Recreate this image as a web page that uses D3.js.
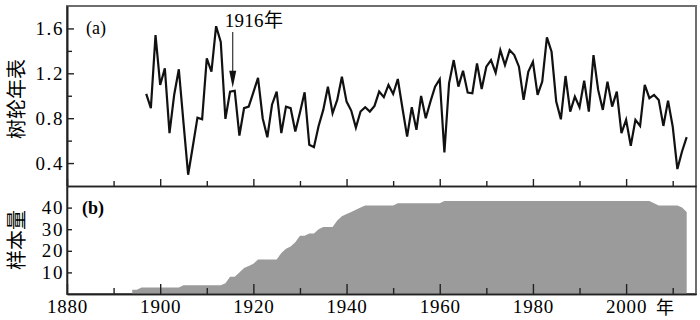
<!DOCTYPE html>
<html>
<head>
<meta charset="utf-8">
<script src="https://cdn.jsdelivr.net/npm/d3@7"></script>
<style>
  html, body { margin: 0; padding: 0; background: #fff; }
  svg { display: block; }
  .tick text { font-family: "Liberation Serif", "Times New Roman", serif; font-size: 19px; fill: #000; letter-spacing: 0.8px; }
  .ylab .tick text { letter-spacing: 1.6px; }
</style>
</head>
<body>
<svg id="chart" width="700" height="320"></svg>
<script>
// ---------- data ----------
const chronStartYear = 1897;               // first year of the tree-ring chronology
const chronValues = [
  1.016, 0.889, 1.54,
  1.096, 1.244, 0.667, 1.007, 1.236, 0.76, 0.296, 0.548, 0.805, 0.79,
  1.333, 1.214, 1.62, 1.48, 0.794, 1.037, 1.045, 0.645, 0.889, 0.903,
  1.03, 1.16, 0.80, 0.63, 0.92, 1.037, 0.667, 0.903, 0.889, 0.681,
  0.85, 1.031, 0.563, 0.542, 0.731, 0.874, 1.081, 0.844, 0.963, 1.17,
  0.948, 0.868, 0.716, 0.859, 0.898, 0.859, 0.91, 1.037, 0.987, 1.096,
  1.016, 1.149, 0.889, 0.636, 0.898, 0.696, 0.998, 0.8, 0.948, 1.081,
  1.147, 0.494, 1.111, 1.318, 1.081, 1.223, 1.028, 1.022, 1.289, 1.06,
  1.259, 1.318, 1.205, 1.407, 1.274, 1.407, 1.363, 1.259, 0.963, 1.214,
  1.303, 1.007, 1.126, 1.52, 1.392, 0.948, 0.79, 1.176, 0.859, 0.992,
  0.898, 1.134, 0.859, 1.363, 1.052, 0.874, 1.126, 0.903, 1.037, 0.667,
  0.785, 0.554, 0.785, 0.731, 1.096, 0.978, 1.007, 0.963, 0.731, 0.957,
  0.726, 0.347, 0.503, 0.631
];
const sampleStartYear = 1894;              // first year with samples
const sampleCounts = [
  2, 2, 3, 3, 3, 3,
  3, 3, 3, 3, 3, 4, 4, 4, 4, 4,
  4, 4, 4, 4, 5, 8, 8, 10, 12, 13,
  14, 16, 16, 16, 16, 16, 19, 21, 22, 24,
  27, 27, 28, 28, 30, 31, 31, 31, 34, 36,
  37, 38, 39, 40, 41, 41, 41, 41, 41, 41,
  41, 42, 42, 42, 42, 42, 42, 42, 42, 42,
  42, 43, 43, 43, 43, 43, 43, 43, 43, 43,
  43, 43, 43, 43, 43, 43, 43, 43, 43, 43,
  43, 43, 43, 43, 43, 43, 43, 43, 43, 43,
  43, 43, 43, 43, 43, 43, 43, 43, 43, 43,
  43, 43, 43, 43, 43, 43, 42, 41, 41, 41,
  41, 41, 40, 38
];
const xMajorTicks = [1880, 1900, 1920, 1940, 1960, 1980, 2000];
const xMinorTicks = [1890, 1910, 1930, 1950, 1970, 1990, 2010];
const yTopMajorTicks = [0.4, 0.8, 1.2, 1.6];
const yTopMinorTicks = [0.6, 1.0, 1.4];
const yBotTicks = [10, 20, 30, 40];
const markYear = 1916;
const labels = { topY: "树轮年表", botY: "样本量", a: "(a)", b: "(b)", mark: "1916年", unit: "年" };

const chron = chronValues.map((v, i) => ({ year: chronStartYear + i, v }));
const samples = sampleCounts.map((n, i) => ({ year: sampleStartYear + i, n }));

// ---------- layout ----------
const L = 67, R = 696, topT = 6, mid = 186, botB = 294;
const svg = d3.select("#chart");

const x = d3.scaleLinear().domain([1880, 2015]).range([L, R]);
const yTop = d3.scaleLinear().domain([0.2, 1.8]).range([185.5, topT]);
const yBot = d3.scaleLinear().domain([0, 50]).range([botB, mid]);

// outer frame (grey)
svg.append("rect").attr("x", L).attr("y", topT).attr("width", R - L).attr("height", botB - topT)
  .attr("fill", "none").attr("stroke", "#6e6e6e").attr("stroke-width", 2);

// ---------- bottom panel: sample counts ----------
const area = d3.area()
  .x(d => x(d.year))
  .y0(yBot(0))
  .y1(d => yBot(d.n));
svg.append("path").datum(samples).attr("d", area).attr("fill", "#9b9b9b");

// ---------- top panel: chronology ----------
const line = d3.line().x(d => x(d.year)).y(d => yTop(d.v));
svg.append("path").datum(chron).attr("d", line)
  .attr("fill", "none").attr("stroke", "#111").attr("stroke-width", 2.2)
  .attr("stroke-linejoin", "miter");

// ---------- axes ----------
function styleAxis(g) {
  g.selectAll(".domain").attr("stroke", "#222").attr("stroke-width", 1.6);
  g.selectAll(".tick line").attr("stroke", "#222").attr("stroke-width", 1.4);
}
// top panel x ticks (inward, on divider)
svg.append("g").attr("transform", `translate(0,${mid})`)
  .call(d3.axisTop(x).tickValues(xMajorTicks).tickSizeInner(7).tickSizeOuter(0).tickFormat(""))
  .call(styleAxis);
svg.append("g").attr("transform", `translate(0,${mid})`)
  .call(d3.axisTop(x).tickValues(xMinorTicks).tickSizeInner(5).tickSizeOuter(0).tickFormat(""))
  .call(styleAxis);
// bottom panel x axis
svg.append("g").attr("transform", `translate(0,${botB})`)
  .call(d3.axisBottom(x).tickValues(xMajorTicks).tickSizeInner(-10).tickSizeOuter(0).tickPadding(6).tickFormat(d3.format("d")))
  .call(styleAxis);
svg.append("g").attr("transform", `translate(0,${botB})`)
  .call(d3.axisBottom(x).tickValues(xMinorTicks).tickSizeInner(-6).tickSizeOuter(0).tickFormat(""))
  .call(styleAxis);
// top y axis
svg.append("g").attr("class", "ylab").attr("transform", `translate(${L},0)`)
  .call(d3.axisLeft(yTop).tickValues(yTopMajorTicks).tickSizeInner(-7).tickSizeOuter(0).tickPadding(3).tickFormat(d3.format(".1f")))
  .call(styleAxis);
svg.append("g").attr("transform", `translate(${L},0)`)
  .call(d3.axisLeft(yTop).tickValues(yTopMinorTicks).tickSizeInner(-5).tickSizeOuter(0).tickFormat(""))
  .call(styleAxis);
// bottom y axis
svg.append("g").attr("class", "ylab").attr("transform", `translate(${L},0)`)
  .call(d3.axisLeft(yBot).tickValues(yBotTicks).tickSizeInner(-5).tickSizeOuter(0).tickPadding(3).tickFormat(d3.format("d")))
  .call(styleAxis);

// ---------- texts ----------
const serif = '"Liberation Serif", "Times New Roman", "Noto Sans CJK SC", serif';
const cjk = '"Noto Sans CJK SC", sans-serif';

svg.append("text").attr("transform", `translate(24,${(topT + mid) / 2 + 3}) rotate(-90)`)
  .attr("text-anchor", "middle").attr("font-family", cjk).attr("font-size", 20).attr("fill", "#000")
  .text(labels.topY);
svg.append("text").attr("transform", `translate(24,${(mid + botB) / 2 + 0}) rotate(-90)`)
  .attr("text-anchor", "middle").attr("font-family", cjk).attr("font-size", 20).attr("fill", "#000")
  .text(labels.botY);

svg.append("text").attr("x", 86).attr("y", 34).attr("font-family", serif).attr("font-size", 18)
  .attr("fill", "#000").text(labels.a);
svg.append("text").attr("x", 82).attr("y", 214).attr("font-family", serif).attr("font-size", 18)
  .attr("font-weight", "bold").attr("fill", "#000").text(labels.b);

svg.append("text").attr("x", 665).attr("y", 314).attr("text-anchor", "middle")
  .attr("font-family", cjk).attr("font-size", 18).attr("fill", "#000").text(labels.unit);

// 1916 annotation with arrow
const markVal = chron.find(d => d.year === markYear).v;
const ax = x(markYear) - 2;
const tipY = yTop(markVal) - 3;
svg.append("line").attr("x1", ax).attr("x2", ax).attr("y1", 32).attr("y2", tipY - 14)
  .attr("stroke", "#222").attr("stroke-width", 1.1);
svg.append("path")
  .attr("d", `M${ax - 3.5},${tipY - 17} L${ax + 3.5},${tipY - 17} L${ax},${tipY} Z`)
  .attr("fill", "#111");
svg.append("text").attr("x", ax - 8).attr("y", 27).attr("font-family", serif).attr("font-size", 19)
  .attr("letter-spacing", "0.3px").attr("fill", "#000").text(labels.mark);
</script>
</body>
</html>
